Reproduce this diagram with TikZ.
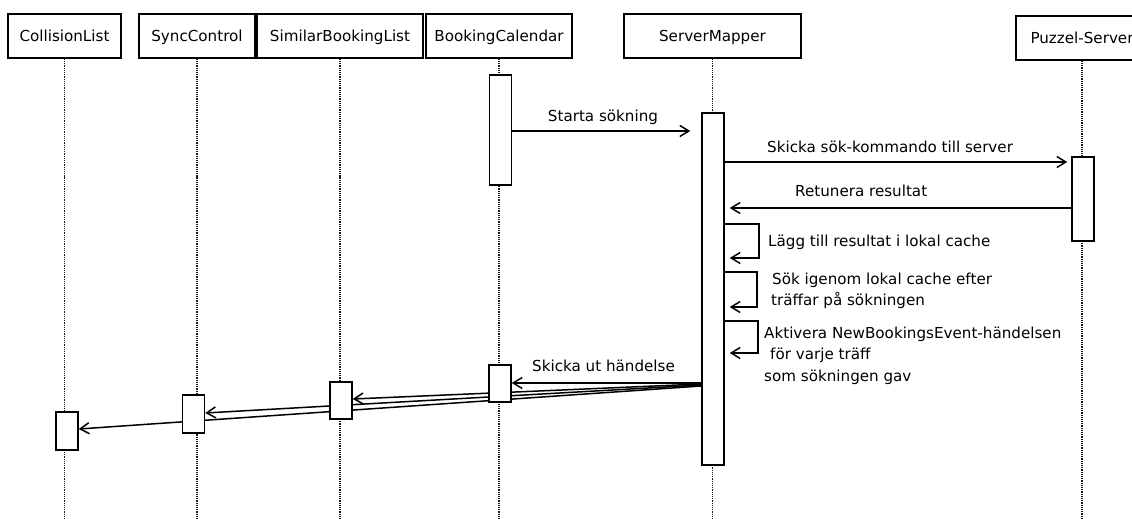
\documentclass[tikz,border=0pt]{standalone}
\usepackage{fontspec}
\setmainfont{DejaVu Sans}
\usetikzlibrary{arrows.meta}
\pgfdeclarelayer{background}
\pgfsetlayers{background,main}
\begin{document}
\begin{tikzpicture}[x=1bp,y=-1bp,
  txt/.style={font=\fontsize{15.2}{18}\selectfont, inner sep=0pt},
  lbl/.style={txt, anchor=base west},
  head/.style={draw, line width=1.8bp, fill=white, minimum height=44bp,
    inner sep=0pt, text height=13bp, text depth=1bp, font=\fontsize{15.2}{18}\selectfont},
  act/.style={draw, line width=1.5bp, fill=white, minimum width=22bp, inner sep=0pt},
  life/.style={densely dotted, line width=1.2bp, black!90},
  msg/.style={line width=1.5bp, -{Straight Barb[length=9bp,width=11bp]}}
]
\useasboundingbox (0,0) rectangle (1132,519);

% object heads
\node[head, minimum width=113bp] (hcl)  at (64.5,36)  {CollisionList};
\node[head, minimum width=116bp] (hsc)  at (197,36)   {SyncControl};
\node[head, minimum width=166bp] (hsbl) at (340,36)   {SimilarBookingList};
\node[head, minimum width=146bp] (hbc)  at (499,36)   {BookingCalendar};
\node[head, minimum width=177bp] (hsm)  at (712.5,36) {ServerMapper};
\node[head, minimum width=132bp] (hps)  at (1082,38)  {Puzzel-Server};

% activation bars
\node[act, minimum height=110bp] (bc1) at (500.5,130)  {};
\node[act, minimum height=352bp] (sm)  at (713,289)    {};
\node[act, minimum height=84bp]  (ps)  at (1083,199)   {};
\node[act, minimum height=37bp]  (bc2) at (500,383.5)  {};
\node[act, minimum height=37bp]  (sbl) at (341,400.5)  {};
\node[act, minimum height=38bp]  (sc)  at (193.5,414)  {};
\node[act, minimum height=38bp]  (cl)  at (67,431)     {};

\begin{pgfonlayer}{background}
  % lifelines
  \draw[life] (hcl.south)  -- (hcl.south |- 0,519);
  \draw[life] (hsc.south)  -- (hsc.south |- 0,519);
  \draw[life] (hsbl.south) -- (hsbl.south |- 0,519);
  \draw[life] (hbc.south)  -- (hbc.south |- 0,519);
  \draw[life] (hsm.south)  -- (hsm.south |- 0,519);
  \draw[life] (hps.south)  -- (hps.south |- 0,519);
  % event fan-out
  \draw[msg] (sm.west |- 0,383) -- (bc2.east |- 0,383);
  \draw[msg] (sm.west |- 0,384) -- (sbl.east |- 0,399);
  \draw[msg] (sm.west |- 0,385) -- (sc.east |- 0,413);
  \draw[msg] (sm.west |- 0,386) -- (cl.east |- 0,429);
\end{pgfonlayer}

% messages
\draw[msg, shorten >=11bp] (bc1.east |- 0,131) -- (sm.west |- 0,131);
\node[txt, anchor=base] at (603,122) {Starta sökning};

\draw[msg, shorten >=4bp] (sm.east |- 0,162) -- (ps.west |- 0,162);
\node[lbl] at (767,152.5) {Skicka sök-kommando till server};

\draw[msg, shorten >=5bp] (ps.west |- 0,208) -- (sm.east |- 0,208);
\node[lbl] at (795,197) {Retunera resultat};

% self calls
\draw[msg, shorten >=5bp] (sm.east |- 0,224) -| (759,258) -- (sm.east |- 0,258);
\node[lbl] at (768,247) {Lägg till resultat i lokal cache};

\draw[msg, shorten >=5bp] (sm.east |- 0,272) -| (757,307) -- (sm.east |- 0,307);
\node[lbl] at (772,285) {Sök igenom lokal cache efter};
\node[lbl] at (771,306) {träffar på sökningen};

\draw[msg, shorten >=5bp] (sm.east |- 0,321) -| (758,353) -- (sm.east |- 0,353);
\node[lbl] at (764,339) {Aktivera NewBookingsEvent-händelsen};
\node[lbl] at (770,360) {för varje träff};
\node[lbl] at (764,382) {som sökningen gav};

\node[lbl] at (532,372) {Skicka ut händelse};
\end{tikzpicture}
\end{document}
